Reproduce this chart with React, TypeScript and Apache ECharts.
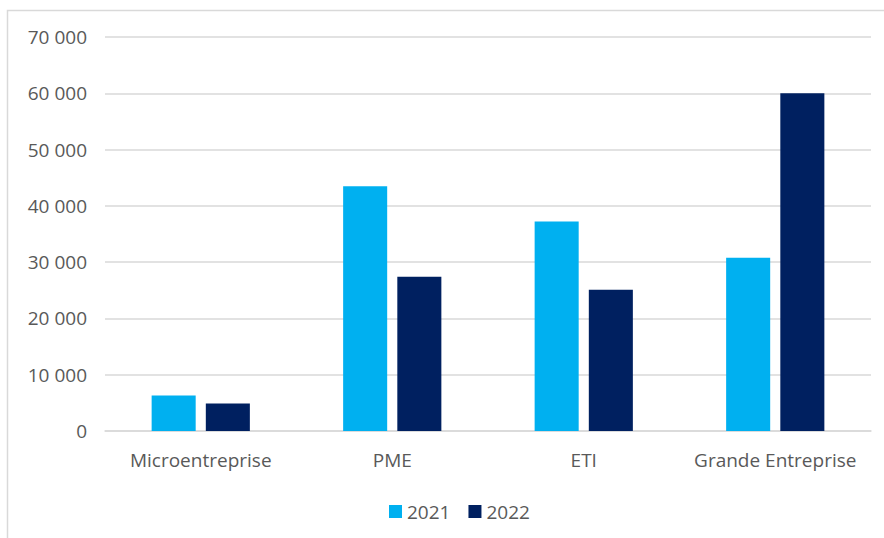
import React, { useEffect, useRef } from "react";
import * as echarts from "echarts";

const categories = ["Microentreprise", "PME", "ETI", "Grande Entreprise"];
const series2021 = [6300, 43500, 37200, 30800];
const series2022 = [4900, 27400, 25100, 60000];
const seriesNames = ["2021", "2022"];

const fmt = (v: number) => String(v).replace(/\B(?=(\d{3})+(?!\d))/g, " ");

export default function App() {
  const ref = useRef<HTMLDivElement>(null);
  useEffect(() => {
    document.body.style.margin = "0";
    const chart = echarts.init(ref.current!, null, { renderer: "svg" });
    const textStyle = { color: "#595959", fontFamily: "Open Sans", fontSize: 19 };
    chart.setOption({
      animation: false,
      backgroundColor: "#ffffff",
      graphic: [
        {
          type: "rect",
          shape: { x: 7.5, y: 10.5, width: 900, height: 600 },
          style: { fill: "none", stroke: "#d9d9d9", lineWidth: 1.5 },
          silent: true,
        },
      ],
      grid: { left: 105, right: 13, top: 37, bottom: 107, containLabel: false },
      legend: {
        data: seriesNames,
        top: 497,
        left: 384,
        itemWidth: 13,
        itemHeight: 13,
        itemGap: 18,
        icon: "rect",
        textStyle: { ...textStyle },
      },
      xAxis: {
        type: "category",
        data: categories,
        axisLine: { lineStyle: { color: "#d9d9d9", width: 1.5 } },
        axisTick: { show: false },
        axisLabel: { ...textStyle, margin: 19, interval: 0 },
      },
      yAxis: {
        type: "value",
        min: 0,
        max: 70000,
        interval: 10000,
        axisLine: { show: false },
        axisTick: { show: false },
        splitLine: { lineStyle: { color: "#d9d9d9", width: 1.5 } },
        axisLabel: { ...textStyle, margin: 18, formatter: (v: number) => fmt(v) },
      },
      series: [
        {
          name: seriesNames[0],
          type: "bar",
          data: series2021,
          barWidth: "23%",
          barGap: "23%",
          itemStyle: { color: "#00B0F0" },
        },
        {
          name: seriesNames[1],
          type: "bar",
          data: series2022,
          barWidth: "23%",
          barGap: "23%",
          itemStyle: { color: "#002060" },
        },
      ],
    });
    return () => chart.dispose();
  }, []);
  return <div ref={ref} style={{ width: 884, height: 538 }} />;
}
